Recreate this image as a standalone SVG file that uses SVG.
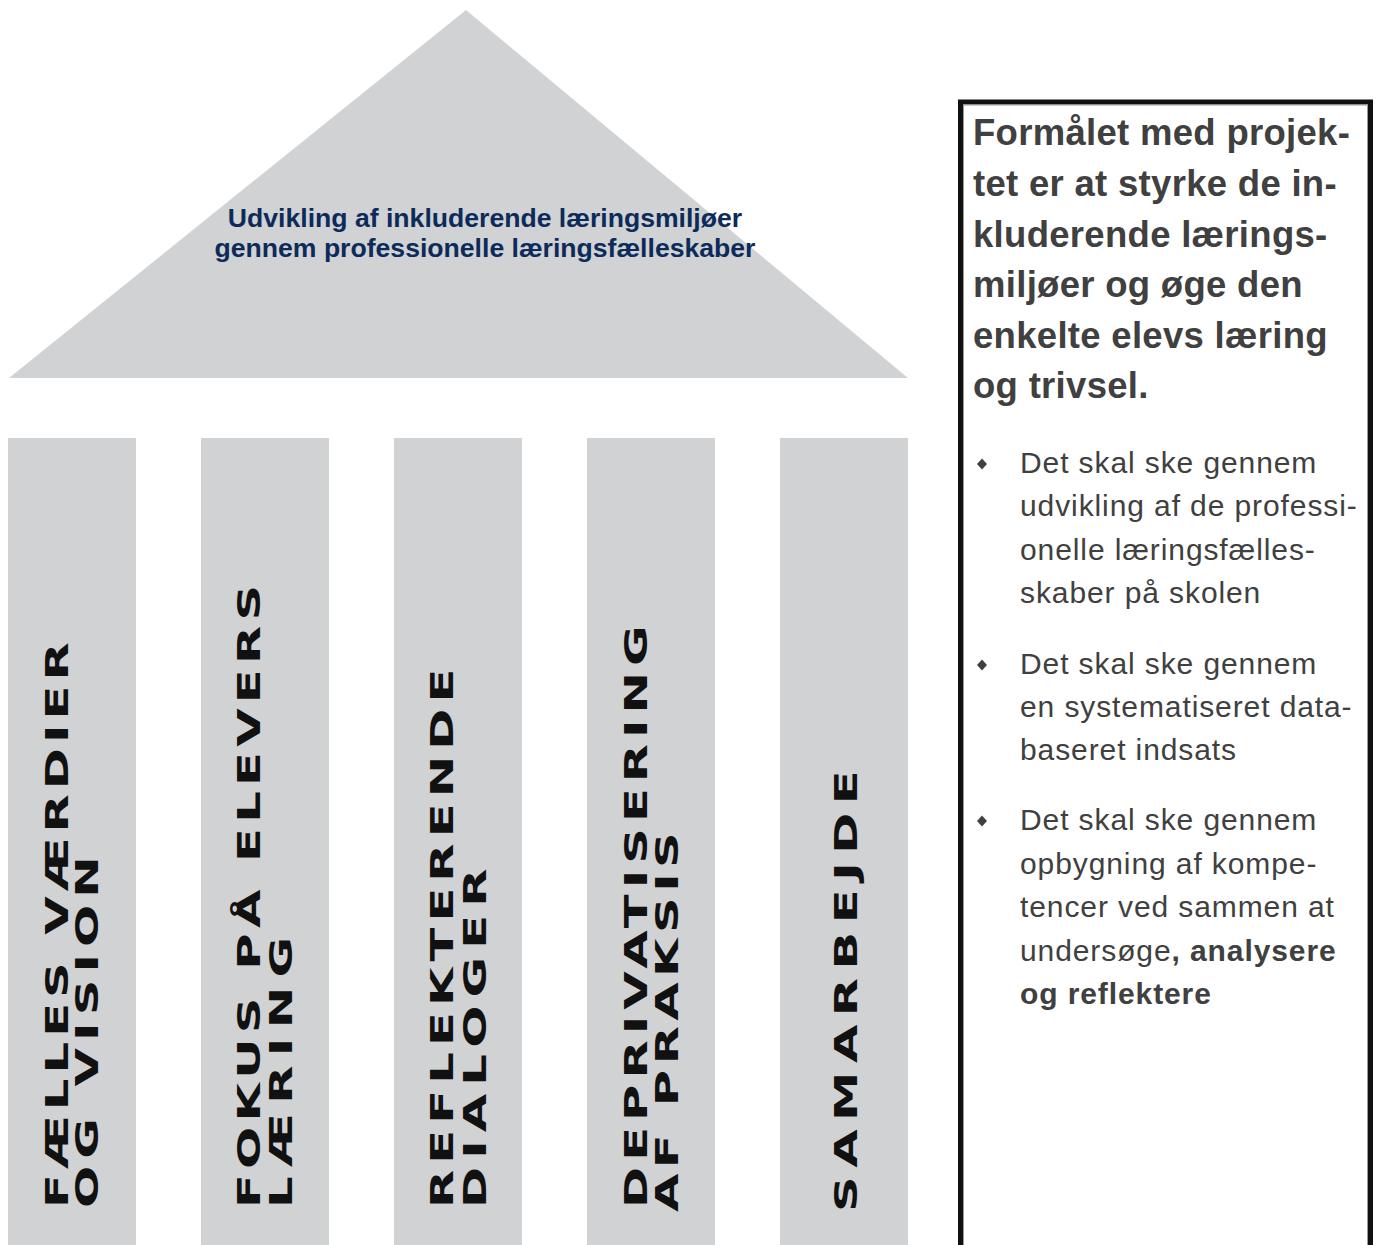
<svg xmlns="http://www.w3.org/2000/svg" width="1378" height="1245" viewBox="0 0 1378 1245">
  <style>
    .shape { fill: #d1d2d4; }
    .roof { font-family: "Liberation Sans", Arial, sans-serif; font-weight: bold; font-size: 26.6px; fill: #0d2b5a; text-anchor: middle; }
    .pillar { font-family: "DejaVu Sans", "Liberation Sans", sans-serif; font-weight: bold; font-size: 32px; fill: #111111; }
    .head { font-family: "Liberation Sans", Arial, sans-serif; font-weight: bold; font-size: 36.5px; fill: #404040; letter-spacing: 0.3px; }
    .bullet { font-family: "Liberation Sans", Arial, sans-serif; font-size: 30px; fill: #404040; letter-spacing: 0.9px; }
    .b { font-weight: bold; }
    .dot { fill: #404040; }
  </style>
  <defs>
    <path id="diamond" d="M0,-5.5 L5,0 L0,5.5 L-5,0 Z"/>
  </defs>
  <rect width="1378" height="1245" fill="#ffffff"/>

  <g id="roof">
    <polygon class="shape" points="466,10 908,378 9,378"/>
    <text class="roof" x="485" y="227">Udvikling af inkluderende læringsmiljøer</text>
    <text class="roof" x="485" y="257">gennem professionelle læringsfælleskaber</text>
  </g>

  <g id="pillar1">
    <rect class="shape" x="8" y="438" width="128" height="807"/>
    <text class="pillar" transform="translate(68,1208) rotate(-90) scale(1.55,1)" textLength="365" lengthAdjust="spacing">FÆLLES VÆRDIER</text>
    <text class="pillar" transform="translate(98,1208) rotate(-90) scale(1.55,1)" textLength="227" lengthAdjust="spacing">OG VISION</text>
  </g>
  <g id="pillar2">
    <rect class="shape" x="201" y="438" width="128" height="807"/>
    <text class="pillar" transform="translate(260,1208) rotate(-90) scale(1.55,1)" textLength="402" lengthAdjust="spacing">FOKUS PÅ ELEVERS</text>
    <text class="pillar" transform="translate(292,1208) rotate(-90) scale(1.55,1)" textLength="175" lengthAdjust="spacing">LÆRING</text>
  </g>
  <g id="pillar3">
    <rect class="shape" x="394" y="438" width="128" height="807"/>
    <text class="pillar" transform="translate(453,1208) rotate(-90) scale(1.55,1)" textLength="348" lengthAdjust="spacing">REFLEKTERENDE</text>
    <text class="pillar" transform="translate(486,1208) rotate(-90) scale(1.55,1)" textLength="219" lengthAdjust="spacing">DIALOGER</text>
  </g>
  <g id="pillar4">
    <rect class="shape" x="587" y="438" width="128" height="807"/>
    <text class="pillar" transform="translate(647,1208) rotate(-90) scale(1.55,1)" textLength="376" lengthAdjust="spacing">DEPRIVATISERING</text>
    <text class="pillar" transform="translate(678,1212) rotate(-90) scale(1.55,1)" textLength="245" lengthAdjust="spacing">AF PRAKSIS</text>
  </g>
  <g id="pillar5">
    <rect class="shape" x="780" y="438" width="128" height="807"/>
    <text class="pillar" transform="translate(857,1212) rotate(-90) scale(1.55,1)" textLength="285" lengthAdjust="spacing">SAMARBEJDE</text>
  </g>

  <g id="connectors"></g>

  <g id="infobox">
    <rect x="960.5" y="102" width="410" height="1170" fill="#ffffff" stroke="#111111" stroke-width="5"/>
    <rect x="963.5" y="105" width="404" height="1170" fill="none" stroke="#9a9a9a" stroke-width="1"/>
    <text class="head" x="973" y="145">Formålet med projek-</text>
    <text class="head" x="973" y="196">tet er at styrke de in-</text>
    <text class="head" x="973" y="247">kluderende lærings-</text>
    <text class="head" x="973" y="297">miljøer og øge den</text>
    <text class="head" x="973" y="348">enkelte elevs læring</text>
    <text class="head" x="973" y="398">og trivsel.</text>

    <use href="#diamond" class="dot" x="982" y="464"/>
    <text class="bullet" x="1020" y="473">Det skal ske gennem</text>
    <text class="bullet" x="1020" y="516">udvikling af de professi-</text>
    <text class="bullet" x="1020" y="560">onelle læringsfælles-</text>
    <text class="bullet" x="1020" y="603">skaber på skolen</text>

    <use href="#diamond" class="dot" x="982" y="665"/>
    <text class="bullet" x="1020" y="674">Det skal ske gennem</text>
    <text class="bullet" x="1020" y="717">en systematiseret data-</text>
    <text class="bullet" x="1020" y="760">baseret indsats</text>

    <use href="#diamond" class="dot" x="982" y="821"/>
    <text class="bullet" x="1020" y="830">Det skal ske gennem</text>
    <text class="bullet" x="1020" y="874">opbygning af kompe-</text>
    <text class="bullet" x="1020" y="917">tencer ved sammen at</text>
    <text class="bullet" x="1020" y="961">undersøge<tspan class="b">, analysere</tspan></text>
    <text class="bullet b" x="1020" y="1004">og reflektere</text>
  </g>
</svg>
